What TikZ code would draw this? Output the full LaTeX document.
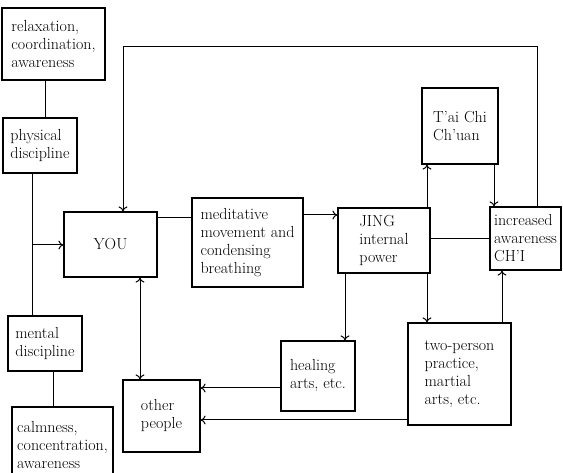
\documentclass[tikz,border=0pt]{standalone}
\usetikzlibrary{arrows.meta}

\tikzset{
  box/.style={draw, line width=1.2pt, align=left, inner sep=0pt,
    font=\fontsize{16}{18}\selectfont},
  link/.style={line width=1pt},
  >={To[length=5pt,width=9pt]}
}

\begin{document}
\begin{tikzpicture}[x=1pt,y=-1pt]

\useasboundingbox (0,0) rectangle (563,473);

% boxes, left column
\node[box, minimum width=103pt, minimum height=72pt] (relax) at (53.5,44) {relaxation,\\coordination,\\awareness};
\node[box, minimum width=74pt, minimum height=55pt] (phys) at (40,145.5) {physical\\discipline};
\node[box, minimum width=74pt, minimum height=55pt] (mental) at (45,343.5) {mental\\discipline};
\node[box, minimum width=101pt, minimum height=76pt] (calm) at (62.5,445) {calmness,\\concentration,\\awareness};

% boxes, middle
\node[box, minimum width=93pt, minimum height=65pt] (you) at (110.5,244.5) {YOU};
\node[box, minimum width=77pt, minimum height=72pt] (other) at (161.5,416) {other\\people};
\node[box, minimum width=111pt, minimum height=89pt] (medit) at (247.5,242.5) {meditative\\movement and\\condensing\\breathing};

% boxes, right
\node[box, minimum width=92pt, minimum height=65pt] (jing) at (384,240.5) {JING\\internal\\power};
\node[box, minimum width=76pt, minimum height=76pt] (taichi) at (460,126) {T'ai Chi\\Ch'uan};
\node[box, minimum width=71pt, minimum height=63pt] (incr) at (525.5,238.5) {increased\\awareness\\CH'I};
\node[box, minimum width=74pt, minimum height=70pt] (heal) at (318,376) {healing\\arts, etc.};
\node[box, minimum width=103pt, minimum height=102pt] (twop) at (459.5,374) {two-person\\practice,\\martial\\arts, etc.};

% bend points
\coordinate (br) at (32,245);
\coordinate (topl) at (123,47);
\coordinate (topr) at (537,47);

% left column
\draw[link] (relax.south -| 45,0) -- (phys.north -| 45,0);
\draw[link] (phys.south -| br) -- (mental.north -| br);
\draw[link, ->] (br) -- (you.west |- br);
\draw[link] (mental.south -| 53,0) -- (calm.north -| 53,0);

% main line
\draw[link] (you.east |- 0,218) -- (medit.west |- 0,218);
\draw[link, ->] (medit.east |- 0,215) -- (jing.west |- 0,215);
\draw[link] (jing.east |- 0,239) -- (incr.west |- 0,239);

% T'ai Chi loop
\draw[link, ->] (jing.north -| 427,0) -- (taichi.south -| 427,0);
\draw[link, ->] (taichi.south -| 494,0) -- (incr.north -| 494,0);

% feedback to YOU
\draw[link, ->] (incr.north -| topr) -- (topr) -- (topl) -- (you.north -| topl);

% YOU and other people
\draw[link, <->] (you.south -| 140,0) -- (other.north -| 140,0);

% down from JING
\draw[link, ->] (jing.south -| 345,0) -- (heal.north -| 345,0);
\draw[link, ->] (jing.south -| 427,0) -- (twop.north -| 427,0);
\draw[link, ->] (twop.north -| 502,0) -- (incr.south -| 502,0);

% to other people
\draw[link, ->] (heal.west |- 0,388) -- (other.east |- 0,388);
\draw[link, ->] (twop.west |- 0,420) -- (other.east |- 0,420);

\end{tikzpicture}
\end{document}
